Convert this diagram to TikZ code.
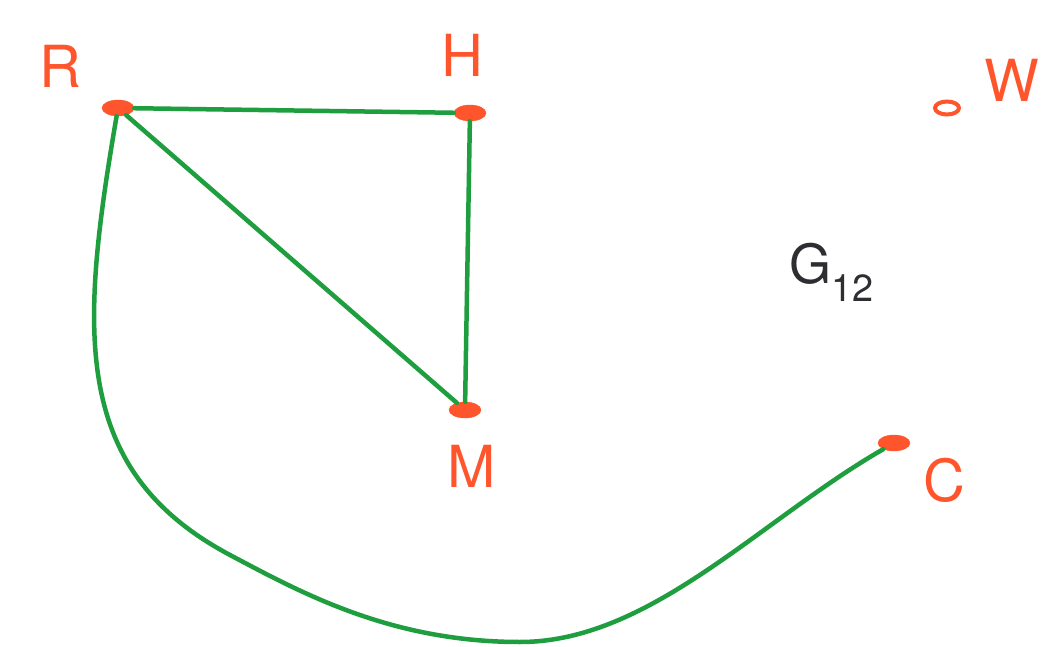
\documentclass[tikz,border=0pt]{standalone}
\usepackage{fontspec}
\setmainfont{TeX Gyre Heros}
\usetikzlibrary{shapes.geometric}
\definecolor{vred}{RGB}{255,85,45}
\definecolor{egreen}{RGB}{30,158,62}
\definecolor{ink}{RGB}{45,45,50}
\tikzset{
  vertex/.style={ellipse, fill=vred, draw=vred, minimum width=32pt, minimum height=16pt, inner sep=0pt},
  smallvertex/.style={ellipse, draw=vred, line width=4pt, fill=white, minimum width=24pt, minimum height=13pt, inner sep=0pt},
  vlabel/.style={text=vred, font=\fontsize{58}{58}\selectfont},
  edge/.style={draw=egreen, line width=4.5pt, line cap=round, line join=round}
}
\begin{document}
\begin{tikzpicture}[x=1pt,y=-1pt]
\useasboundingbox[fill=white] (0,0) rectangle (1045,647);
% vertices
\node[vertex] (R) at (118,108) {};
\node[vertex] (H) at (470,113) {};
\node[smallvertex] (W) at (947,108) {};
\node[vertex] (M) at (465,410) {};
\node[vertex] (C) at (894,443) {};
% labels
\node[vlabel] (lR) at (60,66) {R};
\node[vlabel] (lH) at (462,55) {H};
\node[vlabel] (lW) at (1012,80) {W};
\node[vlabel] (lM) at (472,466) {M};
\node[vlabel] (lC) at (944,480) {C};
\node[text=ink, font=\fontsize{54}{54}\selectfont] (G) at (832,272) {G$_{\mathrm{12}}$};
% edges
\draw[edge] (R) -- (H);
\draw[edge] (H) -- (M);
\draw[edge] (R) -- (M);
\draw[edge] (R) .. controls (80,330) and (70,470) .. (230,555)
  .. controls (300,592) and (390,642) .. (520,642)
  .. controls (650,642) and (760,520) .. (C);
\end{tikzpicture}
\end{document}
